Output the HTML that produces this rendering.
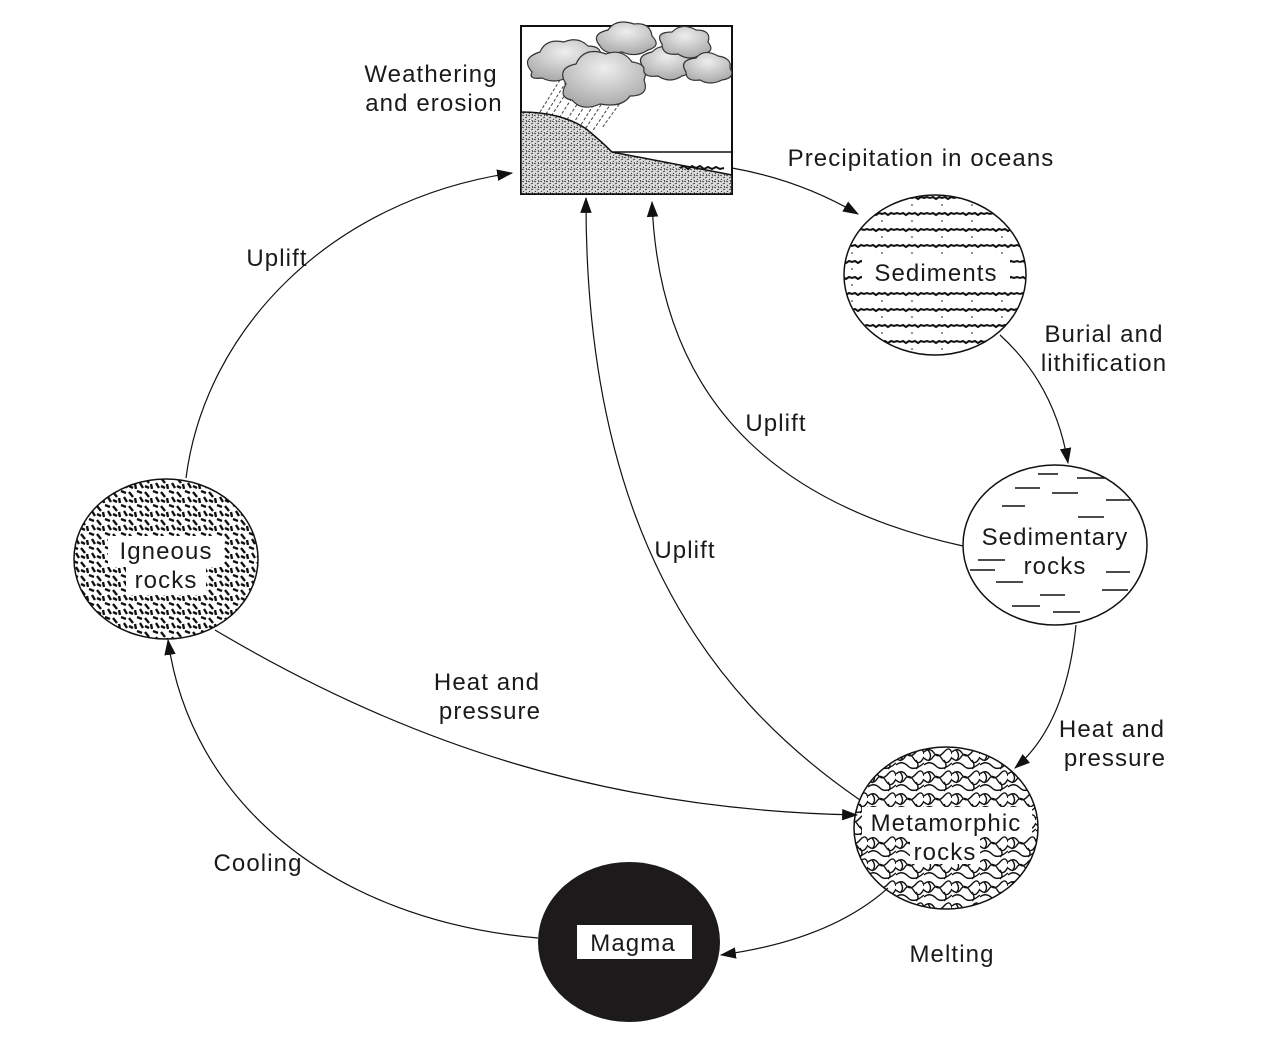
<!DOCTYPE html>
<html><head><meta charset="utf-8"><style>
html,body{margin:0;padding:0;background:#fff;}
svg{display:block;}
text{font-family:"Liberation Sans",Arial,sans-serif;font-size:24px;letter-spacing:1.1px;fill:#1a1a1a;}
</style></head><body>
<svg width="1271" height="1052" viewBox="0 0 1271 1052" xmlns="http://www.w3.org/2000/svg">
<defs>
<marker id="ar" viewBox="0 0 14 10" refX="13" refY="5" markerWidth="16" markerHeight="12" markerUnits="userSpaceOnUse" orient="auto">
<path d="M0,0 L14,5 L0,10 Z" fill="#111"/>
</marker>
<pattern id="ign" width="16" height="14" patternUnits="userSpaceOnUse">
<g stroke="#111" stroke-width="2.4">
<line x1="1" y1="2" x2="5" y2="7"/><line x1="9" y1="1" x2="14" y2="3"/><line x1="7" y1="8" x2="8" y2="13"/><line x1="12" y1="7" x2="15" y2="12"/><line x1="1" y1="10" x2="5" y2="12"/>
</g></pattern>
<pattern id="met" width="28" height="22" patternUnits="userSpaceOnUse">
<g stroke="#111" stroke-width="1.4" fill="none">
<path d="M0,4 Q6,-1 10,5 T20,4 T28,6"/><path d="M0,10 Q5,15 9,9 T18,11 T28,9"/><path d="M0,17 Q6,12 12,18 T28,15"/><path d="M4,2 Q9,8 4,13"/><path d="M20,12 Q24,18 20,21"/>
</g></pattern>
<pattern id="sed" width="30" height="16" patternUnits="userSpaceOnUse">
<path d="M0,6 l3,-1 3,2 3,-2 3,1 3,-1 3,2 3,-2 3,1 3,-1 3,1" stroke="#111" stroke-width="2" fill="none"/>
<circle cx="12" cy="13" r="0.8" fill="#111"/>
</pattern>
<pattern id="stip" width="6" height="6" patternUnits="userSpaceOnUse">
<rect width="6" height="6" fill="#ddd"/>
<path d="M0,1 l2,1 M3,4 l2,-1 M1,5 l1,1 M4,0 l1,2" stroke="#333" stroke-width="0.9"/>
</pattern>
<radialGradient id="cl" cx="50%" cy="30%" r="70%"><stop offset="0" stop-color="#eee"/><stop offset="1" stop-color="#aaa"/></radialGradient>
</defs>

<rect x="521" y="26" width="211" height="168" fill="#fff" stroke="#111" stroke-width="2"/>
<g stroke="#444" stroke-width="1" stroke-dasharray="3,2">
<line x1="560" y1="80" x2="540" y2="112"/><line x1="566" y1="82" x2="546" y2="114"/><line x1="572" y1="84" x2="550" y2="118"/><line x1="580" y1="86" x2="555" y2="124"/><line x1="588" y1="88" x2="560" y2="130"/><line x1="596" y1="88" x2="566" y2="135"/><line x1="604" y1="88" x2="574" y2="136"/><line x1="612" y1="88" x2="582" y2="134"/><line x1="620" y1="90" x2="592" y2="132"/><line x1="628" y1="92" x2="602" y2="128"/>
</g>
<path d="M521,112 Q560,112 585,128 Q600,140 612,152 L732,175 L732,194 L521,194 Z" fill="url(#stip)" stroke="#111" stroke-width="1.5"/>
<path d="M612,152 L732,152 L732,194" fill="none" stroke="#111" stroke-width="1.5"/>
<path d="M680,168 l4,-2 4,3 4,-3 4,2 4,-2 4,3 4,-2 4,2 4,-2 4,2 4,-1" stroke="#111" stroke-width="2" fill="none"/>
<g fill="url(#cl)" stroke="#333" stroke-width="1.2">
<path d="M532,72 q-12,-14 8,-20 q6,-14 24,-10 q14,-6 24,4 q16,0 12,14 q8,12 -10,14 q-8,8 -24,4 q-12,6 -24,0 q-14,2 -10,-6z"/>
<path d="M600,46 q-10,-12 8,-16 q8,-12 26,-6 q16,-2 18,12 q10,10 -4,14 q-12,8 -26,2 q-16,4 -22,-6z"/>
<path d="M566,84 q-10,-16 10,-20 q8,-18 30,-10 q16,-6 26,8 q18,2 12,18 q6,16 -14,16 q-8,12 -30,8 q-18,8 -28,-4 q-14,-2 -6,-16z"/>
<path d="M644,68 q-10,-12 8,-16 q10,-10 24,-2 q16,0 14,12 q8,10 -8,14 q-12,8 -24,0 q-16,2 -14,-8z"/>
<path d="M662,44 q-8,-12 10,-12 q10,-10 24,-2 q16,0 12,12 q8,10 -6,12 q-12,8 -24,0 q-16,2 -16,-10z"/>
<path d="M686,72 q-8,-12 10,-14 q8,-10 22,-2 q14,2 12,12 q6,10 -8,12 q-12,6 -22,0 q-14,2 -14,-8z"/>
</g>

<ellipse cx="935" cy="275" rx="91" ry="80" fill="#fff"/>
<ellipse cx="935" cy="275" rx="91" ry="80" fill="url(#sed)" stroke="#111" stroke-width="1.5"/>
<rect x="862" y="256" width="148" height="34" fill="#fff"/>
<text x="936" y="281" text-anchor="middle">Sediments</text>

<ellipse cx="1055" cy="545" rx="92" ry="80" fill="#fff" stroke="#111" stroke-width="1.5"/>
<g stroke="#111" stroke-width="1.5">
<line x1="1038" y1="474" x2="1058" y2="474"/><line x1="1077" y1="478" x2="1105" y2="478"/>
<line x1="1015" y1="488" x2="1040" y2="488"/><line x1="1052" y1="493" x2="1078" y2="493"/><line x1="1106" y1="500" x2="1130" y2="500"/>
<line x1="1002" y1="506" x2="1025" y2="506"/><line x1="1078" y1="517" x2="1104" y2="517"/>
<line x1="978" y1="560" x2="1005" y2="560"/><line x1="970" y1="570" x2="995" y2="570"/><line x1="1106" y1="572" x2="1130" y2="572"/>
<line x1="996" y1="582" x2="1023" y2="582"/><line x1="1102" y1="590" x2="1128" y2="590"/><line x1="1040" y1="595" x2="1065" y2="595"/>
<line x1="1012" y1="606" x2="1040" y2="606"/><line x1="1053" y1="612" x2="1080" y2="612"/>
</g>
<text x="1055" y="545" text-anchor="middle">Sedimentary</text>
<text x="1055" y="574" text-anchor="middle">rocks</text>

<ellipse cx="946" cy="828" rx="92" ry="81" fill="#fff"/>
<ellipse cx="946" cy="828" rx="92" ry="81" fill="url(#met)" stroke="#111" stroke-width="1.5"/>
<rect x="862" y="807" width="170" height="29" fill="#fff"/>
<rect x="910" y="836" width="70" height="28" fill="#fff"/>
<text x="946" y="831" text-anchor="middle">Metamorphic</text>
<text x="945" y="860" text-anchor="middle">rocks</text>

<ellipse cx="629" cy="942" rx="91" ry="80" fill="#1c1a1a"/>
<rect x="577" y="925" width="115" height="34" fill="#fff"/>
<text x="633" y="951" text-anchor="middle">Magma</text>

<ellipse cx="166" cy="559" rx="92" ry="80" fill="#fff"/>
<ellipse cx="166" cy="559" rx="92" ry="80" fill="url(#ign)" stroke="#111" stroke-width="1.5"/>
<rect x="108" y="536" width="116" height="31" fill="#fff"/>
<rect x="126" y="567" width="80" height="28" fill="#fff"/>
<text x="166" y="559" text-anchor="middle">Igneous</text>
<text x="166" y="588" text-anchor="middle">rocks</text>

<g fill="none" stroke="#111" stroke-width="1.2" marker-end="url(#ar)">
<path d="M186,478 C205,330 330,200 512,173"/>
<path d="M732,168 Q800,180 858,214"/>
<path d="M1000,335 Q1055,385 1068,463"/>
<path d="M1076,625 Q1066,725 1015,768"/>
<path d="M963,546 C800,510 660,420 652,202"/>
<path d="M860,800 C700,690 585,520 586,198"/>
<path d="M215,630 C400,740 600,810 857,815"/>
<path d="M888,888 Q830,940 721,955"/>
<path d="M538,938 C330,920 190,800 168,640"/>
</g>

<text x="431" y="82" text-anchor="middle">Weathering</text>
<text x="434" y="111" text-anchor="middle">and erosion</text>
<text x="921" y="166" text-anchor="middle">Precipitation in oceans</text>
<text x="1104" y="342" text-anchor="middle">Burial and</text>
<text x="1104" y="371" text-anchor="middle">lithification</text>
<text x="277" y="266" text-anchor="middle">Uplift</text>
<text x="776" y="431" text-anchor="middle">Uplift</text>
<text x="685" y="558" text-anchor="middle">Uplift</text>
<text x="487" y="690" text-anchor="middle">Heat and</text>
<text x="490" y="719" text-anchor="middle">pressure</text>
<text x="1112" y="737" text-anchor="middle">Heat and</text>
<text x="1115" y="766" text-anchor="middle">pressure</text>
<text x="258" y="871" text-anchor="middle">Cooling</text>
<text x="952" y="962" text-anchor="middle">Melting</text>
</svg>
</body></html>
